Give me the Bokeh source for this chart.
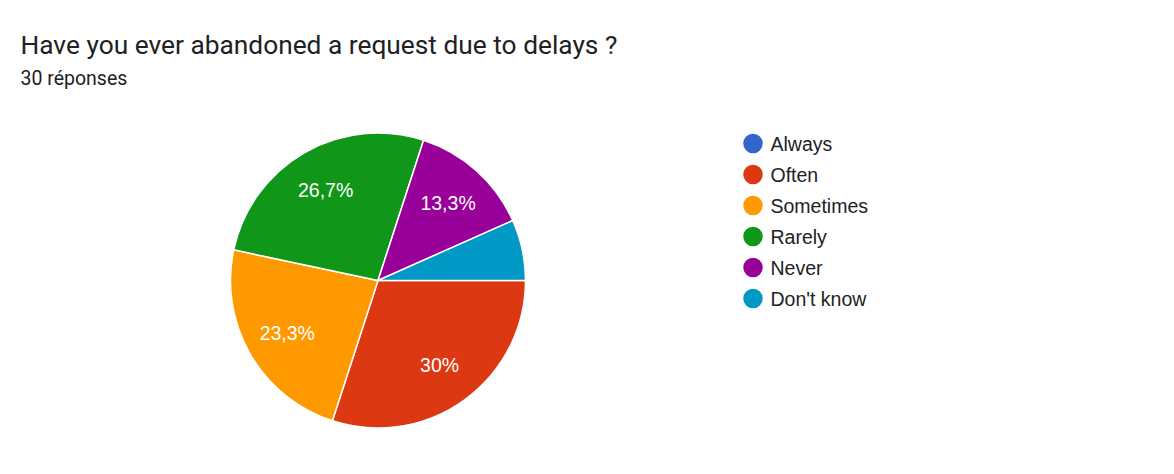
import math
from bokeh.plotting import figure
from bokeh.models import Range1d, ColumnDataSource
from bokeh.core.properties import value
from bokeh.embed import file_html
from bokeh.resources import INLINE

# ---- data ----
title = "Have you ever abandoned a request due to delays ?"
subtitle = "30 réponses"
categories = ["Always", "Often", "Sometimes", "Rarely", "Never", "Don't know"]
counts = [0, 9, 7, 8, 4, 2]
colors = ["#3366cc", "#dc3912", "#ff9900", "#109618", "#990099", "#0099c6"]

W, H = 1158, 458
def X(rx):
    return rx
def Y(ry):
    return H - ry

p = figure(width=W, height=H, x_range=Range1d(0, W), y_range=Range1d(0, H),
           x_axis_type=None, y_axis_type=None, toolbar_location=None,
           output_backend="svg", min_border=0)
p.grid.visible = False
p.outline_line_color = None
p.background_fill_color = "white"
p.border_fill_color = "white"

# ---- pie ----
cx, cy, R = X(377.5), Y(280), 147.5
total = sum(counts)
starts, ends, cols, mids, labels = [], [], [], [], []
cum = 0.0
for c, col in zip(counts, colors):
    f0 = cum / total
    cum += c
    f1 = cum / total
    if c == 0:
        continue
    # clockwise from 3 o'clock
    starts.append(-f1 * 2 * math.pi)
    ends.append(-f0 * 2 * math.pi)
    cols.append(col)
    pct = 100.0 * c / total
    s = f"{pct:.1f}".rstrip("0").rstrip(".").replace(".", ",") + "%"
    if pct >= 10:
        mids.append(-(f0 + f1) * math.pi)
        labels.append(s)

src = ColumnDataSource(dict(x=[cx] * len(starts), y=[cy] * len(starts),
                            start=starts, end=ends, color=cols))
p.wedge(x="x", y="y", radius=R, start_angle="start", end_angle="end",
        direction="anticlock", fill_color="color", line_color="white",
        line_width=1.5, source=src)

lr = 0.71 * R
lsrc = ColumnDataSource(dict(x=[cx + lr * math.cos(m) for m in mids],
                             y=[cy + lr * math.sin(m) for m in mids],
                             t=labels))
p.text(x="x", y="y", text="t", source=lsrc, text_color="white",
       text_font=value("Liberation Sans"), text_font_size="19.5px",
       text_align="center", text_baseline="middle")

# ---- titles ----
p.text(x=[X(20)], y=[Y(44)], text=[title], text_color="#202124",
       text_font=value("Roboto"), text_font_size="26.3px",
       text_align="left", text_baseline="alphabetic")
p.text(x=[X(20)], y=[Y(78)], text=[subtitle], text_color="#202124",
       text_font=value("Roboto"), text_font_size="19.5px",
       text_align="left", text_baseline="alphabetic")

# ---- legend ----
ly = [Y(143 + 31 * i) for i in range(len(categories))]
p.scatter(x=[X(752.5)] * len(categories), y=ly, size=19.5, marker="circle",
          fill_color=colors, line_color=None)
p.text(x=[X(770)] * len(categories), y=ly, text=categories, text_color="#222222",
       text_font=value("Liberation Sans"), text_font_size="19.5px",
       text_align="left", text_baseline="middle")

open("out.html", "w").write(file_html(p, INLINE))
